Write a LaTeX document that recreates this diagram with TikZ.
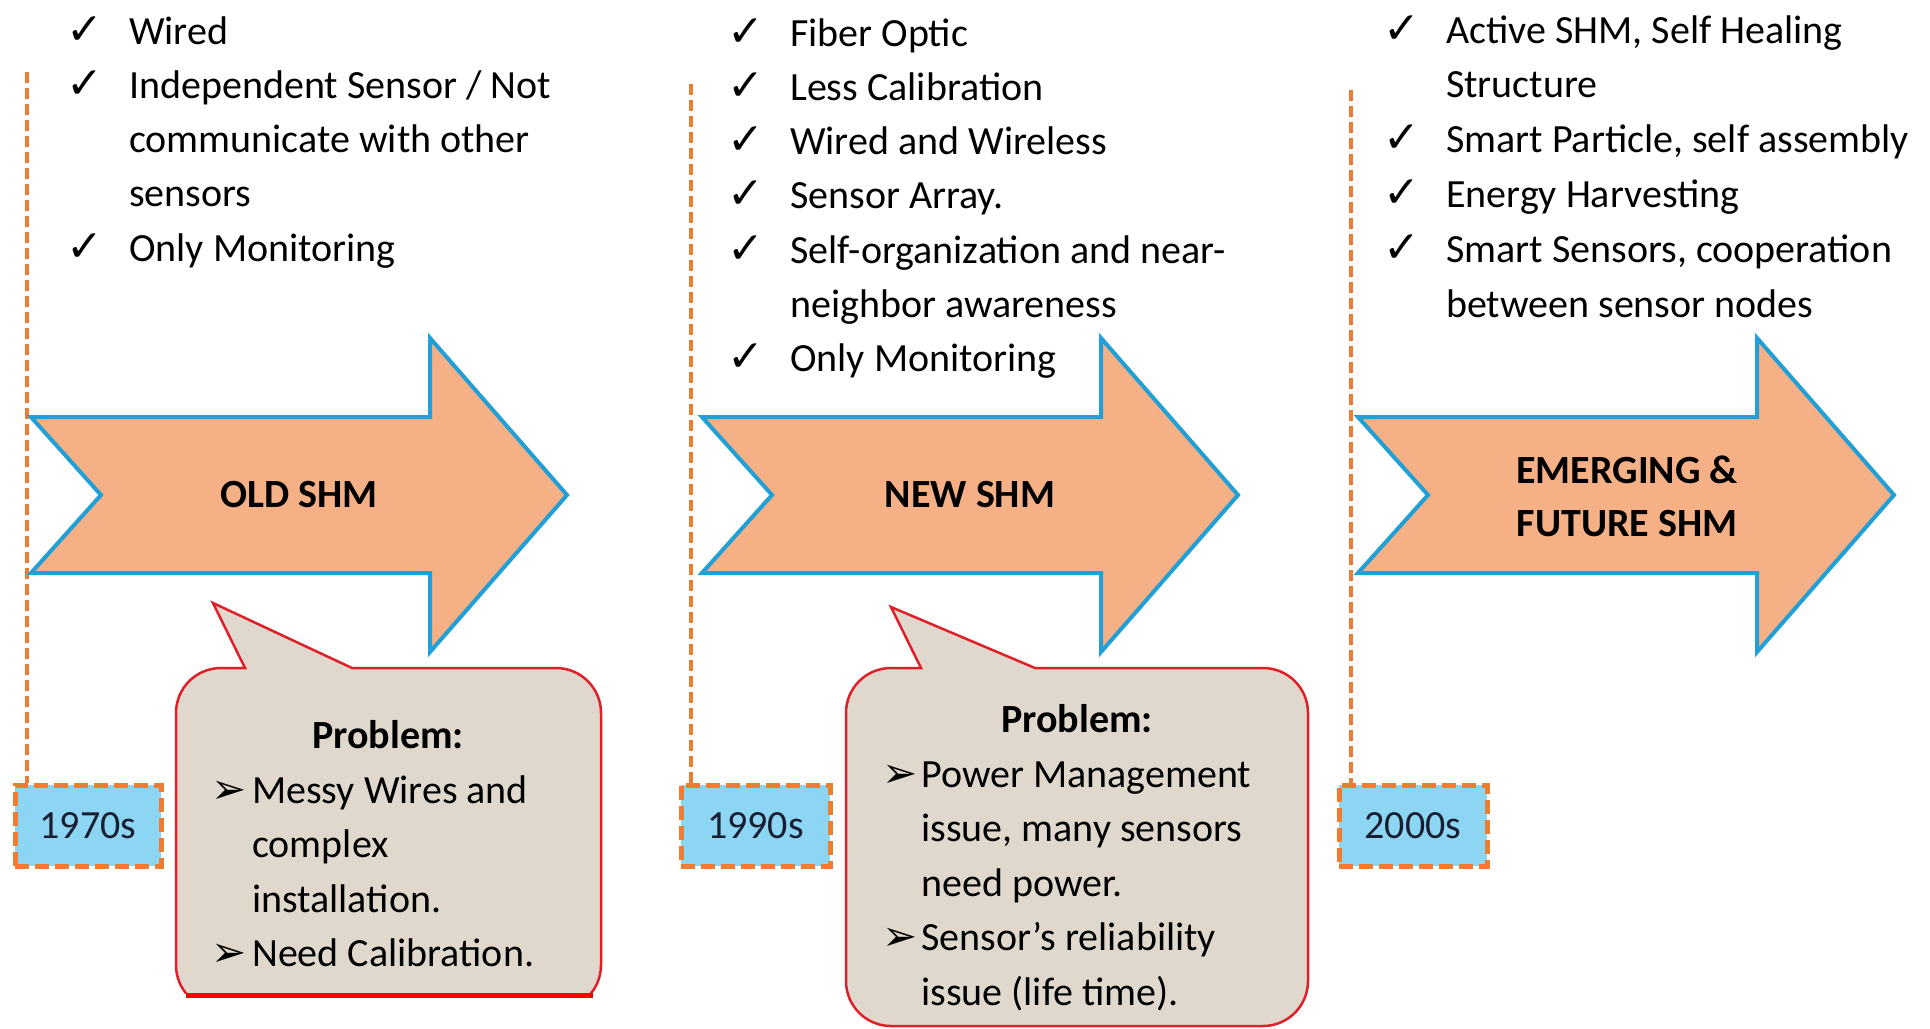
\documentclass[tikz,border=0pt]{standalone}
\usepackage{fontspec}
\setmainfont{Carlito}
\newfontfamily\dingfont{DejaVu Sans}

\definecolor{shmfill}{RGB}{246,176,134}
\definecolor{shmedge}{RGB}{32,160,214}
\definecolor{datefill}{RGB}{140,214,244}
\definecolor{tlorange}{RGB}{237,125,49}
\definecolor{notefill}{RGB}{224,216,205}
\definecolor{noteedge}{RGB}{222,32,40}
\definecolor{datetext}{RGB}{25,30,50}

\tikzset{
  listtxt/.style={anchor=base west, inner sep=0pt, font=\fontsize{40}{48}\selectfont},
  chk/.style={anchor=base west, inner sep=0pt, font=\dingfont\fontsize{44}{48}\selectfont},
  bul/.style={anchor=base west, inner sep=0pt, font=\dingfont\fontsize{42}{48}\selectfont},
  heading/.style={anchor=base, inner sep=0pt, font=\bfseries\fontsize{40}{48}\selectfont},
  shmarrow/.style={fill=shmfill, draw=shmedge, line width=4pt, line join=miter},
  datebox/.style={fill=datefill, draw=tlorange, line width=5pt,
    dash pattern=on 14pt off 6pt, minimum width=146pt, minimum height=81pt,
    inner sep=0pt, font=\fontsize{40}{48}\selectfont, text=datetext},
  timeline/.style={draw=tlorange, line width=4.5pt, dash pattern=on 11pt off 5pt},
  note/.style={fill=notefill, draw=noteedge, line width=2.5pt, line join=miter},
}

\begin{document}
\begin{tikzpicture}[x=1pt, y=-1pt]
\useasboundingbox (0,0) rectangle (1930,1028);
\fill[white] (0,0) rectangle (1930,1028);
\clip (0,0) rectangle (1930,1028);

% ---- date boxes and their dashed time lines
\node[datebox] (d1) at (88,825.5) {1970s};
\node[datebox, minimum width=149pt] (d2) at (755.5,825.5) {1990s};
\node[datebox, minimum width=148pt] (d3) at (1413,825.5) {2000s};
\coordinate (t1) at (27,72);
\coordinate (t2) at (691,84);
\coordinate (t3) at (1351,90);
\draw[timeline] (t1) -- (t1 |- d1.north);
\draw[timeline] (t2) -- (t2 |- d2.north);
\draw[timeline] (t3) -- (t3 |- d3.north);
% redraw boxes over the line ends
\node[datebox] at (d1) {1970s};
\node[datebox, minimum width=149pt] at (d2) {1990s};
\node[datebox, minimum width=148pt] at (d3) {2000s};

% ---- the three era arrows
\foreach \sx in {31,702,1358}{
  \draw[shmarrow, xshift=\sx pt] (0,417) -- (399,417) -- (399,338) -- (536,495)
    -- (399,652) -- (399,573) -- (0,573) -- (70,495) -- cycle;
}
\node[heading, anchor=center] (a1) at (299,495) {OLD SHM};
\node[heading, anchor=center] (a2) at (970,495) {NEW SHM};
\node[heading] (a3) at (1627,483) {EMERGING \&};
\node[heading] (a4) at (1627,536) {FUTURE SHM};

% ---- feature lists
\node[chk] (k11) at (66,44) {✓};
\node[listtxt] (l11) at (129,44) {Wired};
\node[chk] (k12) at (66,98.3) {✓};
\node[listtxt] (l12) at (129,98.3) {Independent Sensor / Not};
\node[listtxt] (l13) at (129,152.6) {communicate with other};
\node[listtxt] (l14) at (129,206.9) {sensors};
\node[chk] (k15) at (66,261.2) {✓};
\node[listtxt] (l15) at (129,261.2) {Only Monitoring};

\node[chk] (k21) at (727,46) {✓};
\node[listtxt] (l21) at (790,46) {Fiber Optic};
\node[chk] (k22) at (727,100.3) {✓};
\node[listtxt] (l22) at (790,100.3) {Less Calibration};
\node[chk] (k23) at (727,154.6) {✓};
\node[listtxt] (l23) at (790,154.6) {Wired and Wireless};
\node[chk] (k24) at (727,208.9) {✓};
\node[listtxt] (l24) at (790,208.9) {Sensor Array.};
\node[chk] (k25) at (727,263.2) {✓};
\node[listtxt] (l25) at (790,263.2) {Self-organization and near-};
\node[listtxt] (l26) at (790,317.5) {neighbor awareness};
\node[chk] (k27) at (727,371.8) {✓};
\node[listtxt] (l27) at (790,371.8) {Only Monitoring};

\node[chk] (k31) at (1383,43) {✓};
\node[listtxt] (l31) at (1446,43) {Active SHM, Self Healing};
\node[listtxt] (l32) at (1446,97.8) {Structure};
\node[chk] (k33) at (1383,152.6) {✓};
\node[listtxt] (l33) at (1446,152.6) {Smart Particle, self assembly};
\node[chk] (k34) at (1383,207.4) {✓};
\node[listtxt] (l34) at (1446,207.4) {Energy Harvesting};
\node[chk] (k35) at (1383,262.2) {✓};
\node[listtxt] (l35) at (1446,262.2) {Smart Sensors, cooperation};
\node[listtxt] (l36) at (1446,317) {between sensor nodes};

% ---- problem callouts
\begin{scope}
  \clip (0,0) rectangle (1930,993);
  \draw[note] (213,603) -- (245,668) -- (221,668)
    .. controls (196.1,668) and (176,688.1) .. (176,713) -- (176,965)
    .. controls (176,989.9) and (196.1,1010) .. (221,1010) -- (556,1010)
    .. controls (580.9,1010) and (601,989.9) .. (601,965) -- (601,713)
    .. controls (601,688.1) and (580.9,668) .. (556,668) -- (352,668) -- cycle;
\end{scope}
\draw[red, line width=5pt] (186,995) -- (593,995);

\draw[note] (891,607) -- (921,668) -- (891,668)
  .. controls (866.1,668) and (846,688.1) .. (846,713) -- (846,981)
  .. controls (846,1005.9) and (866.1,1026) .. (891,1026) -- (1263,1026)
  .. controls (1287.9,1026) and (1308,1005.9) .. (1308,981) -- (1308,713)
  .. controls (1308,688.1) and (1287.9,668) .. (1263,668) -- (1035,668) -- cycle;

\node[heading] (p1) at (388,748) {Problem:};
\node[bul] (b11) at (211,803) {➢};
\node[listtxt] (q11) at (252,803) {Messy Wires and};
\node[listtxt] (q12) at (252,857.5) {complex};
\node[listtxt] (q13) at (252,912) {installation.};
\node[bul] (b14) at (211,966) {➢};
\node[listtxt] (q14) at (252,966) {Need Calibration.};

\node[heading] (p2) at (1077,732) {Problem:};
\node[bul] (b21) at (882,787) {➢};
\node[listtxt] (q21) at (921,787) {Power Management};
\node[listtxt] (q22) at (921,841.5) {issue, many sensors};
\node[listtxt] (q23) at (921,896) {need power.};
\node[bul] (b24) at (882,950.5) {➢};
\node[listtxt] (q24) at (921,950.5) {Sensor’s reliability};
\node[listtxt] (q25) at (921,1005) {issue (life time).};
\end{tikzpicture}
\end{document}
